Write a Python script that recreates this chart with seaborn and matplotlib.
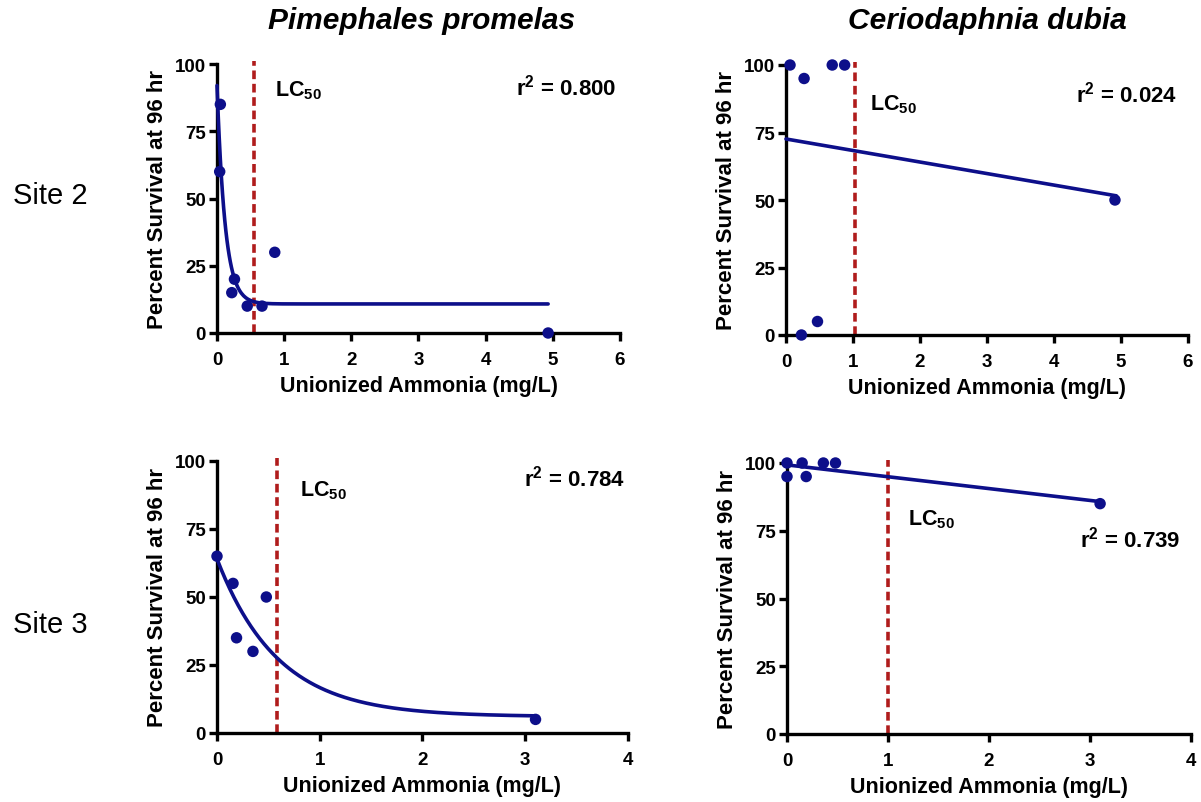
import numpy as np
import pandas as pd
import seaborn as sns
import matplotlib
matplotlib.use("Agg")
import matplotlib.pyplot as plt

# ---- measured survival data -------------------------------------------------
# Pimephales promelas, Site 2
pp2_ammonia = [0.05, 0.04, 0.26, 0.22, 0.45, 0.67, 0.86, 4.93]
pp2_survival = [85, 60, 20, 15, 10, 10, 30, 0]
# Ceriodaphnia dubia, Site 2
cd2_ammonia = [0.06, 0.27, 0.69, 0.875, 0.23, 0.47, 4.91]
cd2_survival = [100, 95, 100, 100, 0, 5, 50]
# Pimephales promelas, Site 3
pp3_ammonia = [0.0, 0.156, 0.19, 0.35, 0.48, 3.10]
pp3_survival = [65, 55, 35, 30, 50, 5]
# Ceriodaphnia dubia, Site 3
cd3_ammonia = [0.0, 0.0, 0.15, 0.19, 0.36, 0.48, 3.10]
cd3_survival = [100, 95, 100, 95, 100, 100, 85]

# ---- fitted models ------------------------------------------------------------
# one-phase exponential decay: plateau + (top - plateau) * exp(-k x)
pp2_fit = dict(top=92.0, plateau=10.8, k=8.3, xmax=4.93)
pp3_fit = dict(top=64.0, plateau=6.0, k=1.69, xmax=3.10)
# straight-line fits: intercept + slope * x
cd2_fit = dict(intercept=72.6, slope=-4.27, xmax=4.93)
cd3_fit = dict(intercept=99.3, slope=-4.37, xmax=3.10)

lc50 = [0.55, 1.03, 0.58, 1.0]
r2 = ["0.800", "0.024", "0.784", "0.739"]
species = ["Pimephales promelas", "Ceriodaphnia dubia"]
sites = ["Site 2", "Site 3"]
x_max = [6, 6, 4, 4]

# ---- style --------------------------------------------------------------------
sns.set_theme(style="ticks")
plt.rcParams["font.family"] = ["Liberation Sans", "DejaVu Sans"]
plt.rcParams["mathtext.fontset"] = "custom"
plt.rcParams["mathtext.rm"] = "Liberation Sans:bold"
plt.rcParams["mathtext.it"] = "Liberation Sans:bold"
plt.rcParams["mathtext.bf"] = "Liberation Sans:bold"
for key in ("text.color", "axes.labelcolor", "xtick.color", "ytick.color"):
    plt.rcParams[key] = "black"

DOT = "#0d0f8a"
LINE = "#0d0f8a"
RED = "#b01c1c"

W, H = 1201, 803
fig = plt.figure(figsize=(W / 100, H / 100), dpi=100)


def axes_px(left, top, right, bottom):
    return fig.add_axes([left / W, 1 - bottom / H, (right - left) / W, (bottom - top) / H])


ax1 = axes_px(217, 65, 620, 334)
ax2 = axes_px(786, 66, 1188, 336)
ax3 = axes_px(217, 462, 628, 734)
ax4 = axes_px(787, 464, 1191, 735)
axes = [ax1, ax2, ax3, ax4]


def exp_curve(fit):
    xs = np.linspace(0, fit["xmax"], 300)
    ys = fit["plateau"] + (fit["top"] - fit["plateau"]) * np.exp(-fit["k"] * xs)
    return pd.DataFrame({"x": xs, "y": ys})


def lin_curve(fit):
    xs = np.array([0.0, fit["xmax"]])
    return pd.DataFrame({"x": xs, "y": fit["intercept"] + fit["slope"] * xs})


curves = [exp_curve(pp2_fit), lin_curve(cd2_fit), exp_curve(pp3_fit), lin_curve(cd3_fit)]
points = [
    pd.DataFrame({"x": pp2_ammonia, "y": pp2_survival}),
    pd.DataFrame({"x": cd2_ammonia, "y": cd2_survival}),
    pd.DataFrame({"x": pp3_ammonia, "y": pp3_survival}),
    pd.DataFrame({"x": cd3_ammonia, "y": cd3_survival}),
]

# label positions (data coords)
lc_pos = [(0.86, 90.5), (1.25, 85.5), (0.81, 89.5), (1.20, 79.5)]
r2_pos = [(5.95, 91.5), (5.84, 89.5), (3.97, 94.0), (3.89, 72.0)]

for ax, cur, pts, lc, xm, lp, rp, rv in zip(axes, curves, points, lc50, x_max, lc_pos, r2_pos, r2):
    sns.lineplot(data=cur, x="x", y="y", ax=ax, color=LINE, lw=2.6, clip_on=False, zorder=3)
    sns.scatterplot(data=pts, x="x", y="y", ax=ax, color=DOT, s=68, edgecolor="none",
                    clip_on=False, zorder=4)
    ax.axvline(lc, ymin=0, ymax=1.01, color=RED, lw=2.6, dashes=(2.4, 1.3), clip_on=False, zorder=2)
    ax.set_xlim(0, xm)
    ax.set_ylim(0, 100)
    ax.set_xticks(range(0, xm + 1))
    ax.set_yticks([0, 25, 50, 75, 100])
    sns.despine(ax=ax)
    for s in ("left", "bottom"):
        ax.spines[s].set_linewidth(2.4)
        ax.spines[s].set_color("black")
    ax.tick_params(axis="both", width=2.4, length=6, direction="out", color="black",
                   labelsize=13.5)
    ax.tick_params(axis="x", pad=7)
    ax.tick_params(axis="y", pad=2)
    for lab in ax.get_xticklabels() + ax.get_yticklabels():
        lab.set_fontweight("bold")
    ax.set_xlabel("Unionized Ammonia (mg/L)", fontsize=15.5, fontweight="bold", labelpad=5)
    ax.set_ylabel("Percent Survival at 96 hr", fontsize=16, fontweight="bold", labelpad=5)
    ax.text(lp[0], lp[1], r"LC$_{50}$", fontsize=15.5, fontweight="bold", ha="left", va="center")
    ax.text(rp[0], rp[1], r"r$^{2}$ = " + rv, fontsize=16, fontweight="bold", ha="right",
            va="center")
    ax.set_facecolor("white")

fig.text(422 / W, 1 - 21 / H, species[0], fontsize=21.5, fontweight="bold", style="italic",
         ha="center", va="center")
fig.text(987 / W, 1 - 21 / H, species[1], fontsize=21.5, fontweight="bold", style="italic",
         ha="center", va="center")
fig.text(13 / W, 1 - 196 / H, sites[0], fontsize=21, ha="left", va="center")
fig.text(13 / W, 1 - 625 / H, sites[1], fontsize=21, ha="left", va="center")

fig.savefig("out.png", dpi=100, facecolor="white")
